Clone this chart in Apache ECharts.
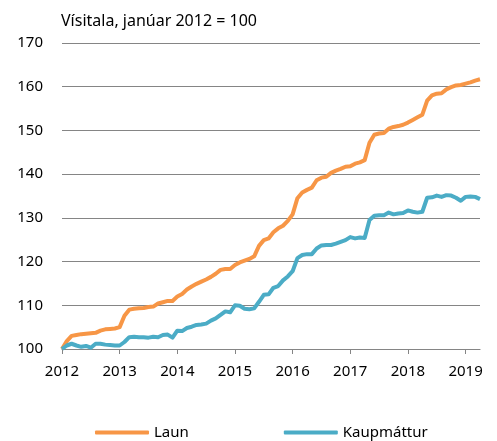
<!DOCTYPE html>
<html>
<head>
<meta charset="utf-8">
<title>Laun og kaupmáttur</title>
<script src="https://cdn.jsdelivr.net/npm/echarts@6/dist/echarts.min.js"></script>
<style>
  html, body { margin: 0; padding: 0; background: #fff; }
  #container { width: 497px; height: 441px; }
</style>
</head>
<body>
<div id="container"></div>
<script>
// Vísitala, janúar 2012 = 100, mánaðarleg gögn jan 2012 - apr 2019
var years = ['2012', '2013', '2014', '2015', '2016', '2017', '2018', '2019'];
var monthsInLastYear = 4;

var laun = [
  100.0, 101.8, 103.0, 103.2, 103.4, 103.5, 103.6, 103.7, 104.2, 104.5, 104.6, 104.7,
  105.0, 107.6, 109.0, 109.2, 109.3, 109.4, 109.6, 109.7, 110.4, 110.7, 111.0, 111.0,
  112.0, 112.6, 113.6, 114.3, 114.9, 115.4, 115.9, 116.5, 117.2, 118.1, 118.3, 118.3,
  119.2, 119.8, 120.2, 120.6, 121.2, 123.6, 124.9, 125.3, 126.7, 127.6, 128.2, 129.3,
  130.8, 134.5, 135.8, 136.4, 136.9, 138.6, 139.2, 139.4, 140.3, 140.8, 141.2, 141.7,
  141.8, 142.4, 142.7, 143.2, 147.2, 149.0, 149.3, 149.4, 150.4, 150.8, 151.0, 151.3,
  151.8, 152.4, 153.0, 153.6, 156.8, 158.0, 158.4, 158.5, 159.4, 159.9, 160.3, 160.4,
  160.7, 161.0, 161.4, 161.7
];

var kaupmattur = [
  100.0, 100.8, 101.2, 100.8, 100.5, 100.7, 100.3, 101.2, 101.2, 101.0, 100.9, 100.8,
  100.8, 101.6, 102.7, 102.8, 102.7, 102.7, 102.6, 102.8, 102.7, 103.2, 103.3, 102.6,
  104.2, 104.1, 104.8, 105.1, 105.5, 105.6, 105.8, 106.5, 107.0, 107.8, 108.6, 108.4,
  110.0, 109.9, 109.2, 109.1, 109.3, 110.8, 112.4, 112.5, 114.0, 114.4, 115.7, 116.6,
  117.8, 120.8, 121.5, 121.7, 121.7, 123.0, 123.7, 123.8, 123.8, 124.1, 124.5, 124.9,
  125.6, 125.3, 125.5, 125.4, 129.5, 130.5, 130.6, 130.6, 131.2, 130.8, 131.0, 131.1,
  131.7, 131.4, 131.2, 131.4, 134.6, 134.7, 135.1, 134.8, 135.2, 135.1, 134.6, 133.9,
  134.8, 134.9, 134.8, 134.3
];

// mánaðaflokkar: "2012-01" ... "2019-04"
var months = [];
years.forEach(function (y, k) {
  var n = (k === years.length - 1) ? monthsInLastYear : 12;
  for (var m = 1; m <= n; m++) {
    months.push(y + '-' + (m < 10 ? '0' + m : m));
  }
});

var FONT = 'Noto Sans';
var GRID_COLOR = '#858585';

var dom = document.getElementById('container');
var myChart = echarts.init(dom, null, { renderer: 'canvas' });

function isJanuary(idx) {
  return idx % 12 === 0;
}

var option = {
  animation: false,
  title: {
    text: 'Vísitala, janúar 2012 = 100',
    left: 56,
    top: 8,
    textStyle: { fontFamily: FONT, fontSize: 16, fontWeight: 'normal', color: '#000' }
  },
  grid: { left: 62, right: 17, top: 43, bottom: 92 },
  xAxis: {
    type: 'category',
    data: months,
    boundaryGap: false,
    axisLine: { lineStyle: { color: GRID_COLOR, width: 1.2 } },
    axisTick: {
      show: true,
      length: 5,
      interval: function (idx) { return isJanuary(idx); },
      lineStyle: { color: GRID_COLOR }
    },
    axisLabel: {
      interval: function (idx) { return isJanuary(idx); },
      formatter: function (v) { return v.slice(0, 4); },
      margin: 15,
      fontFamily: FONT,
      fontSize: 15,
      color: '#000'
    },
    splitLine: { show: false }
  },
  yAxis: {
    type: 'value',
    min: 100,
    max: 170,
    interval: 10,
    axisLine: { show: false },
    axisTick: { show: false },
    axisLabel: { margin: 19, fontFamily: FONT, fontSize: 15, color: '#000' },
    splitLine: { lineStyle: { color: GRID_COLOR, width: 1.2 } }
  },
  legend: {
    left: 90,
    top: 420,
    itemGap: 95,
    itemWidth: 54,
    itemHeight: 4,
    icon: 'roundRect',
    textStyle: { fontFamily: FONT, fontSize: 15, color: '#000' },
    data: ['Laun', 'Kaupmáttur']
  },
  series: [
    {
      name: 'Laun',
      type: 'line',
      data: laun,
      showSymbol: false,
      symbol: 'none',
      color: '#F79646',
      lineStyle: { width: 4, color: '#F79646', join: 'round' }
    },
    {
      name: 'Kaupmáttur',
      type: 'line',
      data: kaupmattur,
      showSymbol: false,
      symbol: 'none',
      color: '#4BACC6',
      lineStyle: { width: 4, color: '#4BACC6', join: 'round' }
    }
  ]
};

myChart.setOption(option);

window.onresize = function () {
  myChart.resize();
};
</script>
</body>
</html>
